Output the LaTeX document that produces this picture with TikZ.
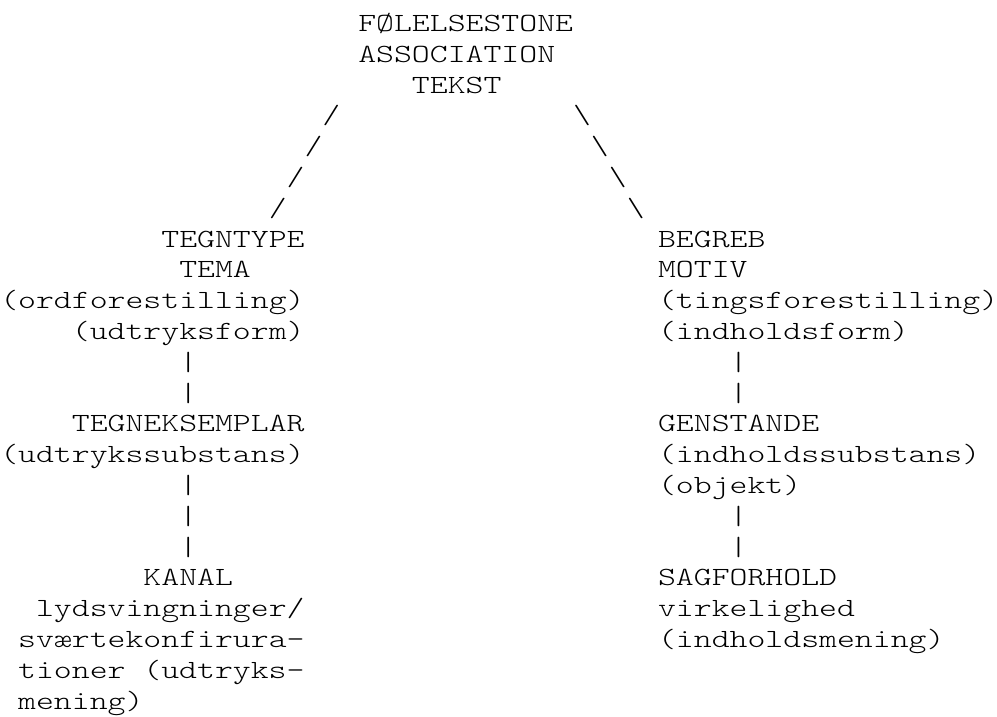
\documentclass[tikz,border=0pt]{standalone}
\usepackage{fontspec}
\newfontfamily\monofnt[FakeStretch=1.3]{lmmonolt10-regular.otf}
\usetikzlibrary{calc}
\tikzset{txt/.style={anchor=base west, inner sep=0pt, font=\monofnt\fontsize{19.67pt}{23pt}\selectfont}}

\begin{document}
\begin{tikzpicture}[x=13.425pt,y=-23.1pt]
	\useasboundingbox (0pt,23.625pt) rectangle (747.75pt,-514.125pt);
	% top
	\node[txt] (fol) at (20,0) {FØLELSESTONE};
	\node[txt] (assoc) at (20,1) {ASSOCIATION};
	\node[txt] (tekst) at (23,2) {TEKST};
	\foreach \k in {1,...,4}{
		\node[txt] (ls\k) at ($(tekst.base west)+(-4-\k,\k)$) {/};
		\node[txt] (rs\k) at ($(tekst.base west)+(8+\k,\k)$) {\textbackslash};}
	
	% venstre side
	\node[txt] (tegntype) at (9,7) {TEGNTYPE};
	\node[txt] (tema) at (10,8) {TEMA};
	\node[txt] (ordf) at (0,9) {(ordforestilling)};
	\node[txt] (udtrform) at (4,10) {(udtryksform)};
	\foreach \k in {1,2}{
		\node[txt] (lv\k) at ($(udtrform.base west)+(6,\k)$) {|};}
	\node[txt] (tegneks) at (4,13) {TEGNEKSEMPLAR};
	\node[txt] (udtrsub) at (0,14) {(udtrykssubstans)};
	\foreach \k in {1,2,3}{
		\node[txt] (lw\k) at ($(udtrsub.base west)+(10,\k)$) {|};}
	\node[txt] (kanal) at (8,18) {KANAL};
	\node[txt] (lyd) at (2,19) {lydsvingninger/};
	\node[txt] (svaerte) at (1,20) {sværtekonfirura-};
	\node[txt] (tioner) at (1,21) {tioner (udtryks-};
	\node[txt] (mening) at (1,22) {mening)};
	
	% hoejre side
	\node[txt] (begreb) at (36.75,7) {BEGREB};
	\node[txt] (motiv) at (36.75,8) {MOTIV};
	\node[txt] (tingsf) at (36.75,9) {(tingsforestilling)};
	\node[txt] (indhform) at (36.75,10) {(indholdsform)};
	\foreach \k in {1,2}{
		\node[txt] (rv\k) at ($(indhform.base west)+(4,\k)$) {|};}
	\node[txt] (genstande) at (36.75,13) {GENSTANDE};
	\node[txt] (indhsub) at (36.75,14) {(indholdssubstans)};
	\node[txt] (objekt) at (36.75,15) {(objekt)};
	\foreach \k in {1,2}{
		\node[txt] (rw\k) at ($(objekt.base west)+(4,\k)$) {|};}
	\node[txt] (sagforhold) at (36.75,18) {SAGFORHOLD};
	\node[txt] (virkelighed) at (36.75,19) {virkelighed};
	\node[txt] (indhmening) at (36.75,20) {(indholdsmening)};
\end{tikzpicture}
\end{document}
